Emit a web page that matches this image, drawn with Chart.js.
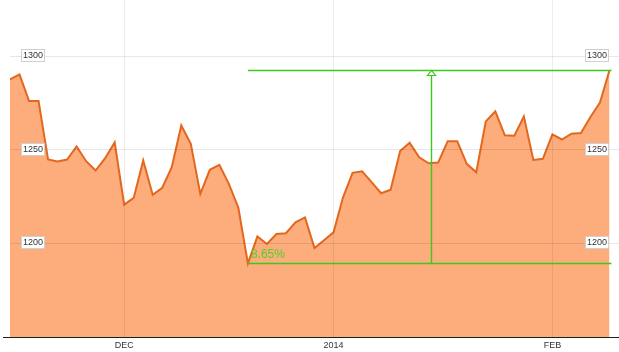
<!DOCTYPE html>
<html><head><meta charset="utf-8">
<script src="https://cdn.jsdelivr.net/npm/chart.js@4/dist/chart.umd.min.js"></script>
<style>html,body{margin:0;padding:0;background:#fff}canvas{display:block}</style>
</head><body>
<canvas id="c" width="619" height="352"></canvas>
<script>
// Daily closing values
const goldClose = [
  1287.6, 1290.3, 1276.0, 1276.0, 1244.8, 1243.8, 1244.8, 1251.8, 1243.9, 1238.9,
  1245.5, 1253.9, 1220.7, 1224.3, 1244.3, 1225.9, 1229.7, 1240.7, 1263.0, 1253.2,
  1226.4, 1239.3, 1242.0, 1231.8, 1219.0, 1189.3, 1203.7, 1199.7, 1205.0, 1205.4,
  1211.2, 1213.9, 1197.5, 1201.7, 1205.9, 1224.6, 1237.7, 1238.5, 1232.7, 1226.8,
  1228.7, 1249.3, 1253.7, 1246.0, 1242.8, 1243.2, 1254.6, 1254.6, 1242.5, 1238.0,
  1265.1, 1270.5, 1257.7, 1257.5, 1267.8, 1244.6, 1245.2, 1258.2, 1255.5, 1258.6,
  1258.9, 1267.5, 1275.2, 1292.5
];
const dayIndex = goldClose.map((_, i) => i);
const monthTickIndex = [12, 34, 57];
const monthTickLabels = ['DEC', '2014', 'FEB'];
const priceTicks = [1200, 1250, 1300];
const rangeLowIndex = 25;
const rangeHighIndex = 63;
const rangeMarkerIndex = 44.2;
const rangeLabel = '8.65%';

const GREEN = 'rgb(60,200,30)';
const GREEN_TEXT = 'rgb(80,210,40)';

const overlay = {
  id: 'overlay',
  afterDraw(chart) {
    const ctx = chart.ctx, xs = chart.scales.x, ys = chart.scales.y, ca = chart.chartArea;
    ctx.save();
    // bottom axis line
    ctx.strokeStyle = '#1e1e1e';
    ctx.lineWidth = 1.2;
    ctx.beginPath();
    ctx.moveTo(3, Math.round(ca.bottom) + 0.5);
    ctx.lineTo(chart.width, Math.round(ca.bottom) + 0.5);
    ctx.stroke();

    // price labels in boxes, both sides
    ctx.font = '9px "Liberation Sans", Arial, sans-serif';
    ctx.textAlign = 'center';
    ctx.textBaseline = 'middle';
    ys.ticks.forEach(t => {
      const y = Math.round(ys.getPixelForValue(t.value)) - 1;
      [ca.left + 11, ca.right - 34].forEach(bx => {
        ctx.fillStyle = '#fff';
        ctx.fillRect(bx, y - 6, 23, 12);
        ctx.strokeStyle = '#cfcfcf';
        ctx.lineWidth = 1;
        ctx.strokeRect(bx + 0.5, y - 6 + 0.5, 23, 12);
        ctx.fillStyle = '#333';
        ctx.fillText(String(t.value), bx + 12, y + 0.5);
      });
    });

    // range measurement annotation
    const lowY = Math.round(ys.getPixelForValue(goldClose[rangeLowIndex])) + 0.5;
    const highY = Math.round(ys.getPixelForValue(goldClose[rangeHighIndex])) + 0.5;
    const x0 = xs.getPixelForValue(rangeLowIndex);
    const x1 = xs.getPixelForValue(rangeHighIndex) + 2;
    const xm = Math.round(xs.getPixelForValue(rangeMarkerIndex)) + 0.5;
    ctx.strokeStyle = GREEN;
    ctx.lineWidth = 1.4;
    ctx.beginPath();
    ctx.moveTo(x0, lowY); ctx.lineTo(x1, lowY);
    ctx.moveTo(x0, highY); ctx.lineTo(x1, highY);
    ctx.moveTo(xm, lowY); ctx.lineTo(xm, highY);
    ctx.stroke();
    ctx.lineWidth = 1.2;
    ctx.beginPath();
    ctx.moveTo(xm, highY);
    ctx.lineTo(xm - 4, highY + 5);
    ctx.lineTo(xm + 4, highY + 5);
    ctx.closePath();
    ctx.fillStyle = '#fff';
    ctx.fill();
    ctx.stroke();
    ctx.fillStyle = GREEN_TEXT;
    ctx.font = '12px "Liberation Sans", Arial, sans-serif';
    ctx.textAlign = 'left';
    ctx.textBaseline = 'alphabetic';
    ctx.fillText(rangeLabel, x0 + 3, lowY - 6);
    ctx.restore();
  }
};

new Chart(document.getElementById('c'), {
  type: 'line',
  data: {
    datasets: [{
      data: dayIndex.map(i => ({ x: i, y: goldClose[i] })),
      borderColor: 'rgb(226,104,30)',
      backgroundColor: 'rgb(253,172,124)',
      borderWidth: 2,
      fill: 'start',
      pointRadius: 0,
      tension: 0
    }]
  },
  options: {
    responsive: false,
    devicePixelRatio: 1,
    animation: false,
    events: [],
    plugins: { legend: { display: false }, tooltip: { enabled: false } },
    layout: { padding: { left: 10, right: 0, top: 0, bottom: 0 } },
    scales: {
      x: {
        type: 'linear',
        min: 0,
        max: 64,
        afterBuildTicks: s => { s.ticks = monthTickIndex.map(v => ({ value: v })); },
        afterFit: s => { s.height = 15; },
        grid: { color: 'rgba(0,0,0,0.07)', drawTicks: false, z: 1 },
        border: { display: false },
        ticks: {
          autoSkip: false,
          maxRotation: 0,
          padding: 3,
          color: '#333',
          font: { size: 9, family: '"Liberation Sans", Arial, sans-serif' },
          callback: v => monthTickLabels[monthTickIndex.indexOf(v)]
        }
      },
      y: {
        type: 'linear',
        min: 1150,
        max: 1330,
        afterBuildTicks: s => { s.ticks = priceTicks.map(v => ({ value: v })); },
        afterFit: s => { s.width = 0; },
        grid: { color: 'rgba(0,0,0,0.09)', drawTicks: false, z: 1 },
        border: { display: false },
        ticks: { display: false }
      }
    }
  },
  plugins: [overlay]
});
</script>
</body></html>
